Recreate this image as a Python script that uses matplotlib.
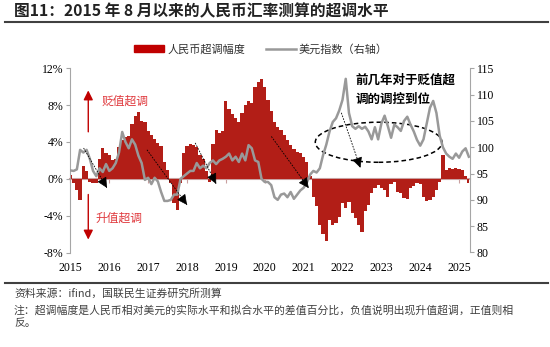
import numpy as np
import matplotlib.pyplot as plt
from matplotlib.patches import Patch, Ellipse
from matplotlib.lines import Line2D

plt.rcParams['font.family'] = ['Noto Sans CJK SC', 'DejaVu Sans']

# 月度数据
overshoot = [0.4, -0.5, -1.2, -2.3, 1.4, 0.8, -0.3, -0.5, -0.4, 2.2,
             3.4, 2.8, 2.6, 2.0, 2.2, 3.5, 4.2, 4.5, 4.7, 6.0,
             6.8, 7.3, 6.3, 6.2, 5.2, 4.8, 4.3, 3.9, 3.6, 1.8,
             1.0, -0.5, -2.6, -3.4, -0.5, 2.8, 3.6, 3.8, 3.7, 3.5,
             2.6, 2.2, 0.8, -0.3, 3.8, 5.3, 5.0, 5.2, 8.5, 7.6,
             7.0, 6.6, 6.2, 7.1, 8.0, 8.4, 8.2, 10.0, 10.5, 10.8,
             10.0, 8.6, 7.4, 6.2, 5.6, 5.3, 4.8, 4.2, 3.7, 3.2,
             2.9, 2.8, 2.4, 1.8, 0.3, -2.0, -2.9, -5.0, -6.0, -6.8,
             -4.5, -5.0, -4.8, -4.1, -2.6, -3.2, -2.5, -3.7, -4.2, -5.0,
             -5.8, -3.5, -2.8, -1.5, -1.0, -0.7, -1.0, -1.2, -2.0, -0.6,
             -0.3, -1.4, -1.5, -2.1, -2.2, -1.0, -0.8, -0.5, -0.6, -2.0,
             -2.4, -2.3, -2.0, -1.2, -0.3, 2.6, 1.0, 1.2, 1.1, 1.2,
             1.1, 1.0, 0.3, -0.5]
usd_index = [95.6, 95.5, 95.8, 99.5, 99.0, 99.5, 97.8, 95.5, 94.5, 96.0,
             95.3, 96.8, 95.5, 96.0, 97.0, 99.0, 102.9, 101.0, 99.8, 101.5,
             100.5, 98.4, 97.0, 93.8, 94.2, 93.0, 94.2, 93.5, 91.5, 89.8,
             89.8, 90.0, 91.0, 91.0, 94.0, 94.5, 95.0, 95.5, 95.5, 97.0,
             96.0, 96.5, 96.0, 97.0, 97.5, 96.8, 97.5, 97.8, 98.2, 98.8,
             97.5, 98.2, 97.2, 98.8, 97.5, 100.4, 99.8, 97.5, 97.2, 94.0,
             93.4, 93.4, 92.8, 90.5, 90.0, 91.0, 91.2, 90.5, 91.5, 90.2,
             91.0, 91.8, 92.3, 93.3, 94.8, 95.5, 95.2, 96.0, 98.5, 100.5,
             103.0, 104.8, 105.5, 107.0, 109.0, 113.0, 106.5, 104.0, 103.5, 104.0,
             103.5, 103.9, 103.0, 101.5, 103.8, 101.5, 104.5, 106.0, 104.0, 101.8,
             104.3, 103.8, 103.1, 105.0, 105.8, 104.3, 103.0, 101.4, 100.3, 101.5,
             104.5, 107.5, 108.8, 106.5, 102.2, 100.0, 98.8, 98.2, 97.8, 98.8,
             98.0, 99.2, 99.8, 98.2]
years = list(range(2015, 2026))

t = 2015 + np.arange(len(overshoot)) / 12

fig = plt.figure(figsize=(5.5, 3.47), dpi=100)
ax = fig.add_axes([70 / 550, 1 - 252.5 / 347, 400 / 550, 184.2 / 347])
ax2 = ax.twinx()

ax.fill_between(t, overshoot, 0, step='mid', color='#b21e17', linewidth=0)
ax2.plot(t, usd_index, color='#999999', lw=1.8)

ax.set_xlim(2014.99, 2025.28)
ax.set_ylim(-8, 12)
ax.set_yticks(range(-8, 13, 4))
ax.set_yticklabels([f'{v}%' for v in range(-8, 13, 4)])
ax2.set_ylim(80, 115)
ax2.set_yticks(range(80, 116, 5))
ax.set_xticks(years)
ax.set_xticklabels([str(y) for y in years])

for a in (ax, ax2):
    a.spines['top'].set_visible(False)
    a.spines['bottom'].set_visible(False)
    a.spines['left'].set_color('#a6a6a6')
    a.spines['right'].set_color('#a6a6a6')
ax.spines['right'].set_visible(False)
ax2.spines['left'].set_visible(False)
ax.tick_params(axis='x', length=0, pad=7, labelsize=8.5)
ax.tick_params(axis='y', length=3, color='#a6a6a6', labelsize=8.5, pad=2)
ax2.tick_params(axis='y', length=3, color='#a6a6a6', labelsize=8.5, pad=2)
for lab in ax.get_xticklabels() + ax.get_yticklabels() + ax2.get_yticklabels():
    lab.set_fontfamily('Liberation Serif')

# 0 轴线
sec = ax.secondary_xaxis(0.4)
sec.set_xticks(years)
sec.tick_params(length=3, color='#c9a0a0', labelbottom=False)
sec.spines['bottom'].set_color('#c9a0a0')
sec.spines['bottom'].set_linewidth(1.5)

# 标注
red = '#c00000'
ax2.annotate('', xy=(2015.46, 9.9), xytext=(2015.46, 4.8), xycoords=ax.transData,
             textcoords=ax.transData,
             arrowprops=dict(arrowstyle='-|>', color=red, lw=1, mutation_scale=14))
ax2.annotate('', xy=(2015.46, -6.9), xytext=(2015.46, -1.4), xycoords=ax.transData,
             textcoords=ax.transData,
             arrowprops=dict(arrowstyle='-|>', color=red, lw=1, mutation_scale=14))
ax2.text(2015.8, 8.4, '贬值超调', color='#e03a3e', fontsize=8.5, va='center',
         transform=ax.transData)
ax2.text(2015.64, -4.25, '升值超调', color='#e03a3e', fontsize=8.5, va='center',
         transform=ax.transData)

arrows = [((2015.34, 3.34), (2015.94, -0.98)),
          ((2016.97, 3.15), (2018.0, -2.83)),
          ((2018.21, 3.9), (2018.75, -0.54)),
          ((2020.17, 4.6), (2021.13, -1.0)),
          ((2021.97, 7.17), (2022.46, 1.2))]
for (x0, y0), (x1, y1) in arrows:
    ax2.plot([x0, x1], [y0, y1], color='black', lw=0.6, ls=(0, (2, 1.5)),
             transform=ax.transData)
    xs = x1 - 0.08 * (x1 - x0)
    ys = y1 - 0.08 * (y1 - y0)
    ax2.annotate('', xy=(x1, y1), xytext=(xs, ys), xycoords=ax.transData,
                 textcoords=ax.transData,
                 arrowprops=dict(arrowstyle='-|>', color='black', lw=0.5,
                                 mutation_scale=16))

ell = Ellipse((2022.93, 3.97), 3.26, 4.35, fill=False, ls=(0, (3, 2)),
              lw=1.1, ec='black', transform=ax.transData)
ax2.add_patch(ell)
ax2.text(2022.33, 10.76, '前几年对于贬值超', fontsize=9, fontweight='bold',
         va='center', transform=ax.transData)
ax2.text(2022.33, 8.59, '调的调控到位', fontsize=9, fontweight='bold',
         va='center', transform=ax.transData)

# 图例
handles = [Patch(color='#c00000', label='人民币超调幅度'),
           Line2D([], [], color='#999999', lw=1.8, label='美元指数（右轴）')]
fig.legend(handles=handles, loc='center', bbox_to_anchor=(0.475, 1 - 49.5 / 347),
           ncol=2, frameon=False, fontsize=8, handlelength=2.7, handleheight=0.6,
           handletextpad=0.3, columnspacing=1.8, labelcolor='#333333')

# 标题与脚注
fig.text(14 / 550, 1 - 11 / 347, '图11：2015 年 8 月以来的人民币汇率测算的超调水平',
         fontsize=11.3, fontweight='bold', va='center', color='#222222')
fig.add_artist(Line2D([5 / 550, 548 / 550], [1 - 22 / 347] * 2, color='#404040', lw=1.5))
fig.add_artist(Line2D([5 / 550, 548 / 550], [1 - 283 / 347] * 2, color='#404040', lw=1.5))
fig.text(14 / 550, 1 - 294 / 347, '资料来源：ifind，国联民生证券研究所测算',
         fontsize=7.8, va='center', color='#404040')
fig.text(14 / 550, 1 - 310 / 347,
         '注：超调幅度是人民币相对美元的实际水平和拟合水平的差值百分比，负值说明出现升值超调，正值则相',
         fontsize=7.8, va='center', color='#404040')
fig.text(14 / 550, 1 - 323 / 347, '反。', fontsize=7.8, va='center', color='#404040')

fig.savefig('out.png', dpi=100)
